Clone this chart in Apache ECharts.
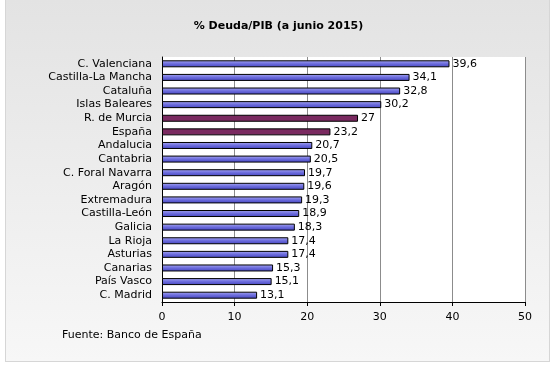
<!DOCTYPE html>
<html><head><meta charset="utf-8">
<script src="https://cdn.jsdelivr.net/npm/echarts@6/dist/echarts.min.js"></script>
<style>
html,body{margin:0;padding:0;background:#fff;}
#frame{position:absolute;left:5px;top:-1px;width:543px;height:361px;border:1px solid #d6d6d6;background:linear-gradient(#e3e3e3,#f7f7f7);}
#c{position:absolute;left:0;top:0;width:557px;height:367px;}
</style></head>
<body>
<div id="frame"></div>
<div id="c"></div>
<script>
const categories = ["C. Valenciana","Castilla-La Mancha","Cataluña","Islas Baleares","R. de Murcia","España","Andalucia","Cantabria","C. Foral Navarra","Aragón","Extremadura","Castilla-León","Galicia","La Rioja","Asturias","Canarias","País Vasco","C. Madrid"];
const values = [39.6,34.1,32.8,30.2,27,23.2,20.7,20.5,19.7,19.6,19.3,18.9,18.3,17.4,17.4,15.3,15.1,13.1];
const highlighted = ["R. de Murcia","España"];
const xTicks = [0,10,20,30,40,50];

const font = "DejaVu Sans";
const blue = {type:'linear',x:0,y:0,x2:0,y2:1,colorStops:[{offset:0,color:'#a8a8f4'},{offset:0.5,color:'#6c6cdc'},{offset:1,color:'#4646c0'}]};
const maroon = '#7a2a60';

const chart = echarts.init(document.getElementById('c'), null, {renderer:'canvas'});
chart.setOption({
  backgroundColor:'transparent',
  animation:false,
  title:{text:'% Deuda/PIB (a junio 2015)',left:'center',top:16,
    textStyle:{fontFamily:font,fontSize:11,fontWeight:'bold',color:'#000'}},
  graphic:[
    {type:'rect',shape:{x:162,y:57,width:363,height:245},style:{fill:'#fff'},z:-1},
    {type:'text',left:62,top:330,style:{text:'Fuente: Banco de España',fontFamily:font,fontSize:11,fill:'#000'}}
  ],
  grid:{left:162,right:32,top:57,bottom:65,containLabel:false},
  xAxis:{type:'value',min:0,max:50,interval:10,
    axisLine:{show:true,lineStyle:{color:'#000',width:1}},
    axisTick:{show:true,length:4,lineStyle:{color:'#000'}},
    axisLabel:{fontFamily:font,fontSize:11,color:'#000',margin:10,
      formatter:v=>xTicks.includes(v)?String(v):''},
    splitLine:{show:true,lineStyle:{color:'#8c8c8c',width:1}}
  },
  yAxis:{type:'category',data:categories,inverse:true,
    axisLine:{show:true,lineStyle:{color:'#000',width:1}},
    axisTick:{show:false},
    axisLabel:{interval:0,fontFamily:font,fontSize:11,color:'#000',margin:10}
  },
  series:[{type:'bar',barWidth:7,
    data:values.map((v,i)=>({value:v,itemStyle:{color:highlighted.includes(categories[i])?maroon:blue}})),
    itemStyle:{borderColor:'#000',borderWidth:1},
    label:{show:true,position:'right',distance:3,fontFamily:font,fontSize:11,color:'#000',
      formatter:p=>String(p.value).replace('.',',')}
  }]
});
</script>
</body></html>
